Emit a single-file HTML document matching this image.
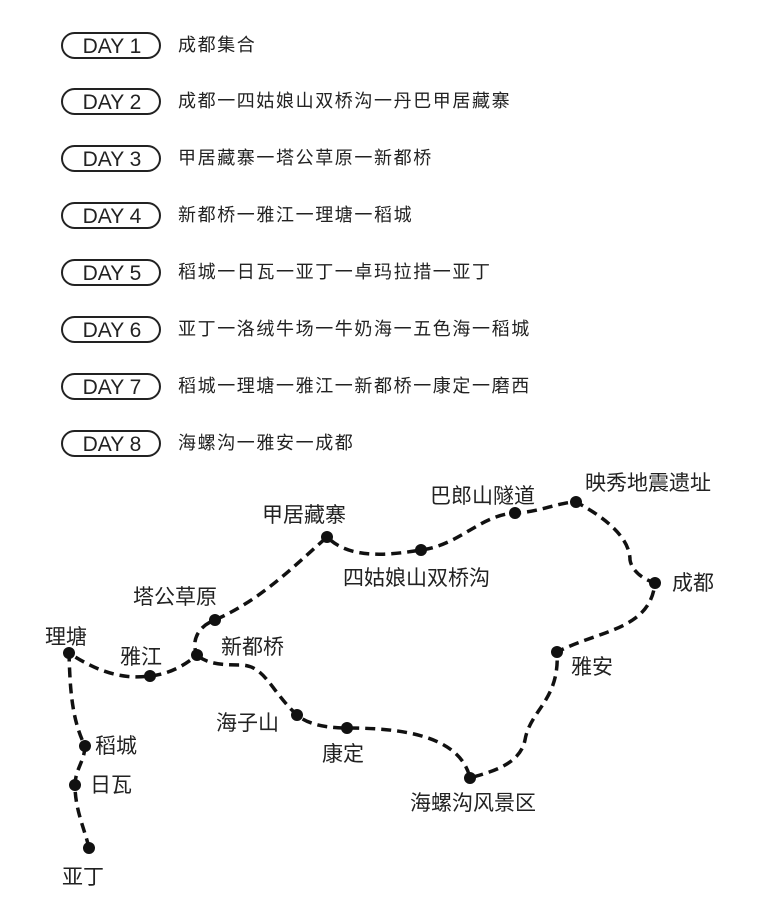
<!DOCTYPE html>
<html><head><meta charset="utf-8"><style>
body{margin:0;width:768px;height:905px;background:#fff;overflow:hidden}
svg{display:block}
text{font-family:"Liberation Sans","Noto Sans CJK SC",sans-serif;fill:#222}
.cj{font-family:"Noto Sans CJK SC",sans-serif}
</style></head><body>
<svg width="768" height="905" viewBox="0 0 768 905">
<g stroke="#222" stroke-width="2" fill="none">
<rect x="62" y="33" width="98" height="25" rx="12.5"/>
<rect x="62" y="89" width="98" height="25" rx="12.5"/>
<rect x="62" y="146" width="98" height="25" rx="12.5"/>
<rect x="62" y="203" width="98" height="25" rx="12.5"/>
<rect x="62" y="260" width="98" height="25" rx="12.5"/>
<rect x="62" y="317" width="98" height="25" rx="12.5"/>
<rect x="62" y="374" width="98" height="25" rx="12.5"/>
<rect x="62" y="431" width="98" height="25" rx="12.5"/>
</g>
<g font-size="21" text-anchor="middle">
<text x="112" y="53">DAY 1</text><text x="112" y="109">DAY 2</text><text x="112" y="166">DAY 3</text><text x="112" y="223">DAY 4</text>
<text x="112" y="280">DAY 5</text><text x="112" y="337">DAY 6</text><text x="112" y="394">DAY 7</text><text x="112" y="451">DAY 8</text>
</g>
<g font-size="18" letter-spacing="1.6">
<text class="cj" x="178" y="51">成都集合</text>
<text class="cj" x="178" y="107">成都一四姑娘山双桥沟一丹巴甲居藏寨</text>
<text class="cj" x="178" y="164">甲居藏寨一塔公草原一新都桥</text>
<text class="cj" x="178" y="221">新都桥一雅江一理塘一稻城</text>
<text class="cj" x="178" y="278">稻城一日瓦一亚丁一卓玛拉措一亚丁</text>
<text class="cj" x="178" y="335">亚丁一洛绒牛场一牛奶海一五色海一稻城</text>
<text class="cj" x="178" y="392">稻城一理塘一雅江一新都桥一康定一磨西</text>
<text class="cj" x="178" y="449">海螺沟一雅安一成都</text>
</g>
<g stroke="#111" stroke-width="3.5" fill="none" stroke-dasharray="10,6">
<path d="M89,848 C85,830 75,810 75,785 C75,770 85,760 85,746 C72,720 70,690 69,653 C95,670 120,680 150,676 C170,674 185,665 197,655 C190,640 200,625 215,620 C260,600 290,570 327,537 C350,560 390,555 421,550 C460,545 480,515 515,513 C540,512 560,502 576,502 C610,520 630,540 630,560 C632,572 645,580 655,583 C650,630 600,630 557,652 C560,700 530,710 525,740 C520,765 490,772 470,778 C460,735 400,728 347,728 C320,728 305,722 297,715 C270,690 265,665 240,665 C215,665 205,662 197,655"/>
</g>
<g fill="#111">
<circle cx="69" cy="653" r="6"/><circle cx="150" cy="676" r="6"/><circle cx="197" cy="655" r="6"/><circle cx="215" cy="620" r="6"/>
<circle cx="327" cy="537" r="6"/><circle cx="421" cy="550" r="6"/><circle cx="515" cy="513" r="6"/><circle cx="576" cy="502" r="6"/>
<circle cx="655" cy="583" r="6"/><circle cx="557" cy="652" r="6"/><circle cx="470" cy="778" r="6"/><circle cx="347" cy="728" r="6"/>
<circle cx="297" cy="715" r="6"/><circle cx="85" cy="746" r="6"/><circle cx="75" cy="785" r="6"/><circle cx="89" cy="848" r="6"/>
</g>
<g font-size="21">
<text x="262" y="522">甲居藏寨</text>
<text x="343" y="585">四姑娘山双桥沟</text>
<text x="430" y="503">巴郎山隧道</text>
<text x="585" y="490">映秀地震遗址</text>
<text x="672" y="590">成都</text>
<text x="571" y="674">雅安</text>
<text x="410" y="810">海螺沟风景区</text>
<text x="322" y="761">康定</text>
<text x="216" y="730">海子山</text>
<text x="221" y="654">新都桥</text>
<text x="133" y="604">塔公草原</text>
<text x="120" y="664">雅江</text>
<text x="45" y="644">理塘</text>
<text x="95" y="753">稻城</text>
<text x="90" y="792">日瓦</text>
<text x="62" y="884">亚丁</text>
</g>
</svg>
</body></html>
